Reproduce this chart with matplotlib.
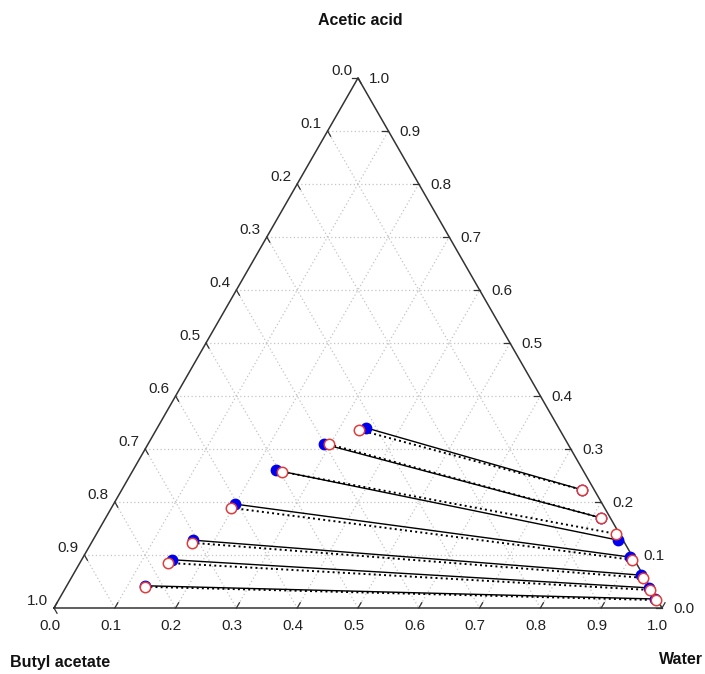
"""
Ternary LLE tie lines: water + acetic acid + butyl acetate
"""
import matplotlib.pyplot as plt
import numpy as np

plt.rcParams['font.family'] = ['Liberation Sans', 'DejaVu Sans']

# mass fractions (butyl acetate = 1 - acid - water)
org_acid_exp = [0.340, 0.309, 0.260, 0.196, 0.128, 0.091, 0.042]
org_water_exp = [0.343, 0.290, 0.235, 0.200, 0.165, 0.149, 0.129]
aq_acid_exp = [0.223, 0.170, 0.128, 0.096, 0.062, 0.038, 0.017]
aq_water_exp = [0.757, 0.815, 0.864, 0.900, 0.934, 0.959, 0.980]

org_acid_cal = [0.336, 0.309, 0.257, 0.189, 0.123, 0.085, 0.040]
org_water_cal = [0.334, 0.298, 0.247, 0.197, 0.166, 0.145, 0.130]
aq_acid_cal = [0.223, 0.170, 0.140, 0.091, 0.057, 0.034, 0.015]
aq_water_cal = [0.757, 0.815, 0.854, 0.905, 0.940, 0.963, 0.982]

ticks = [0.0, 0.1, 0.2, 0.3, 0.4, 0.5, 0.6, 0.7, 0.8, 0.9, 1.0]
tick_labels = ["%.1f" % t for t in ticks]

H = 530 / 608  # triangle height (slightly stretched like the original)


def proj(acid, water):
    acid = np.asarray(acid)
    water = np.asarray(water)
    return water + acid / 2, acid * H


fig = plt.figure(figsize=(7.05, 6.74), dpi=100)
ax = fig.add_axes([0, 0, 1, 1])
ax.set_xlim(-54 / 608, 651 / 608)
ax.set_ylim(-66 / 608, 1.0)
ax.axis('off')

# grid
gcol = '#c4c4c4'
gls = (0, (1, 2))
for t in ticks[1:-1]:
    # acid = const
    x, y = proj([t, t], [0, 1 - t])
    ax.plot(x, y, color=gcol, ls=gls, lw=0.9, zorder=1)
    # water = const
    x, y = proj([0, 1 - t], [t, t])
    ax.plot(x, y, color=gcol, ls=gls, lw=0.9, zorder=1)
    # butyl acetate = const
    x, y = proj([1 - t, 0], [0, 1 - t])
    ax.plot(x, y, color=gcol, ls=gls, lw=0.9, zorder=1)

# frame
x, y = proj([0, 0, 1, 0], [0, 1, 0, 0])
ax.plot(x, y, '-', color='#333333', lw=1.1, zorder=2)

tl = 0.010
tcol = '#222222'
for t, lab in zip(ticks, tick_labels):
    # bottom: water
    x, y = proj([0], [t])
    ax.plot([x[0], x[0] + tl * 0.5], [y[0], y[0] + tl * 0.866], color='#333333', lw=0.9)
    ax.text(x[0] - 0.007, y[0] - 0.030, lab, ha='center', va='center', fontsize=11, color=tcol)
    # right: acetic acid
    x, y = proj([t], [1 - t])
    ax.plot([x[0], x[0] - tl], [y[0], y[0]], color='#333333', lw=0.9)
    ax.text(x[0] + 0.036, y[0] - 0.002, lab, ha='center', va='center', fontsize=11, color=tcol)
    # left: butyl acetate
    x, y = proj([1 - t], [0])
    ax.plot([x[0], x[0] + tl * 0.5], [y[0], y[0] - tl * 0.866], color='#333333', lw=0.9)
    ax.text(x[0] - 0.027, y[0] + 0.011, lab, ha='center', va='center', fontsize=11, color=tcol)

# tie lines
ox, oy = proj(org_acid_exp, org_water_exp)
qx, qy = proj(aq_acid_exp, aq_water_exp)
for x1, y1, x2, y2 in zip(ox, oy, qx, qy):
    ax.plot([x1, x2], [y1, y2], '-', color='black', lw=1.0, zorder=3)
cx, cy = proj(org_acid_cal, org_water_cal)
dx, dy = proj(aq_acid_cal, aq_water_cal)
for x1, y1, x2, y2 in zip(cx, cy, dx, dy):
    ax.plot([x1, x2], [y1, y2], ':', color='black', lw=1.4, zorder=3)

ax.plot(ox, oy, 'o', color='#0000ee', ms=7.5, zorder=4)
ax.plot(qx, qy, 'o', color='#0000ee', ms=7.5, zorder=4)
ax.plot(cx, cy, 'o', mfc='white', mec='#e03c3c', mew=1.1, ms=7.5, zorder=5)
ax.plot(dx, dy, 'o', mfc='white', mec='#e03c3c', mew=1.1, ms=7.5, zorder=5)

# corner labels
ax.text(0.503, 0.967, "Acetic acid", ha='center', va='center', fontsize=11.5, fontweight='bold', color='#111111')
ax.text(-0.073, -0.089, "Butyl acetate", ha='left', va='center', fontsize=11.5, fontweight='bold', color='#111111')
ax.text(1.068, -0.085, "Water", ha='right', va='center', fontsize=11.5, fontweight='bold', color='#111111')

fig.savefig("out.png", dpi=100)
